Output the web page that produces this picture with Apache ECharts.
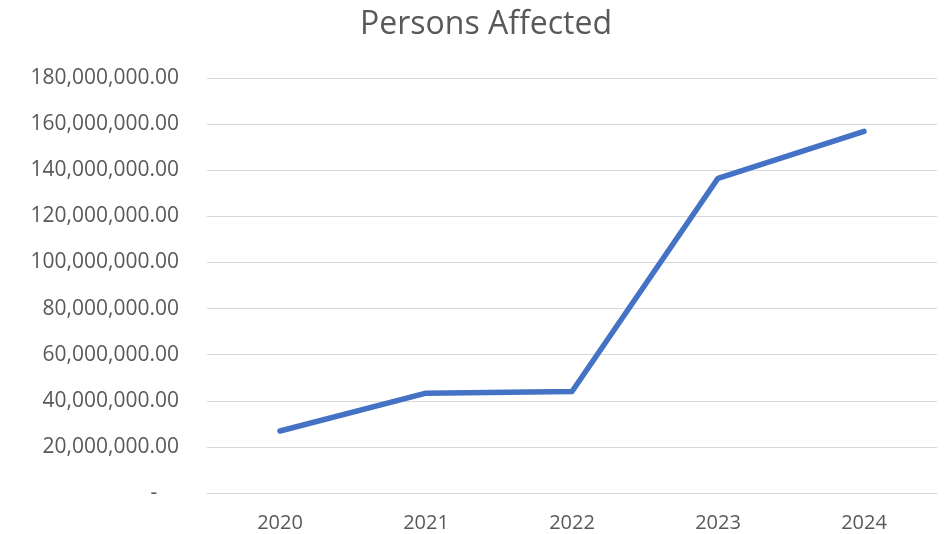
<!DOCTYPE html>
<html>
<head>
<meta charset="utf-8">
<script src="https://cdn.jsdelivr.net/npm/echarts@6/dist/echarts.min.js"></script>
<style>
    html, body { margin: 0; padding: 0; background: #fff; }
    #chart { width: 944px; height: 534px; }
</style>
</head>
<body>
<div id="chart"></div>
<script>
var years = ['2020', '2021', '2022', '2023', '2024'];
var personsAffected = [26900000, 43300000, 44000000, 136500000, 156900000];

var chartDom = document.getElementById('chart');
var myChart = echarts.init(chartDom);
var option;

option = {
    backgroundColor: '#fff',
    title: {
        text: 'Persons Affected',
        left: 355,
        top: 4,
        textStyle: {
            fontFamily: 'Open Sans',
            fontSize: 32,
            fontWeight: 'normal',
            color: '#595959'
        }
    },
    grid: {
        top: 78,
        left: 207,
        right: 7,
        bottom: 41
    },
    xAxis: {
        type: 'category',
        data: years,
        boundaryGap: true,
        axisLine: { show: true, lineStyle: { color: '#d9d9d9', width: 1 } },
        axisTick: { show: false },
        axisLabel: {
            fontFamily: 'Open Sans',
            fontSize: 20,
            color: '#595959',
            margin: 20
        }
    },
    yAxis: {
        type: 'value',
        min: 0,
        max: 180000000,
        interval: 20000000,
        axisLine: { show: false },
        axisTick: { show: false },
        splitLine: { lineStyle: { color: '#d9d9d9', width: 1 } },
        axisLabel: {
            fontFamily: 'Open Sans',
            fontSize: 21,
            color: '#595959',
            margin: 28,
            formatter: function (value) {
                if (value === 0) return '-    ';
                return value.toLocaleString('en-US', { minimumFractionDigits: 2, maximumFractionDigits: 2 });
            }
        }
    },
    series: [{
        name: 'Persons Affected',
        type: 'line',
        data: personsAffected,
        symbol: 'none',
        lineStyle: {
            color: '#4472C4',
            width: 5.5,
            cap: 'round',
            join: 'round'
        },
        itemStyle: { color: '#4472C4' }
    }],
    animation: false
};

option && myChart.setOption(option);
</script>
</body>
</html>
